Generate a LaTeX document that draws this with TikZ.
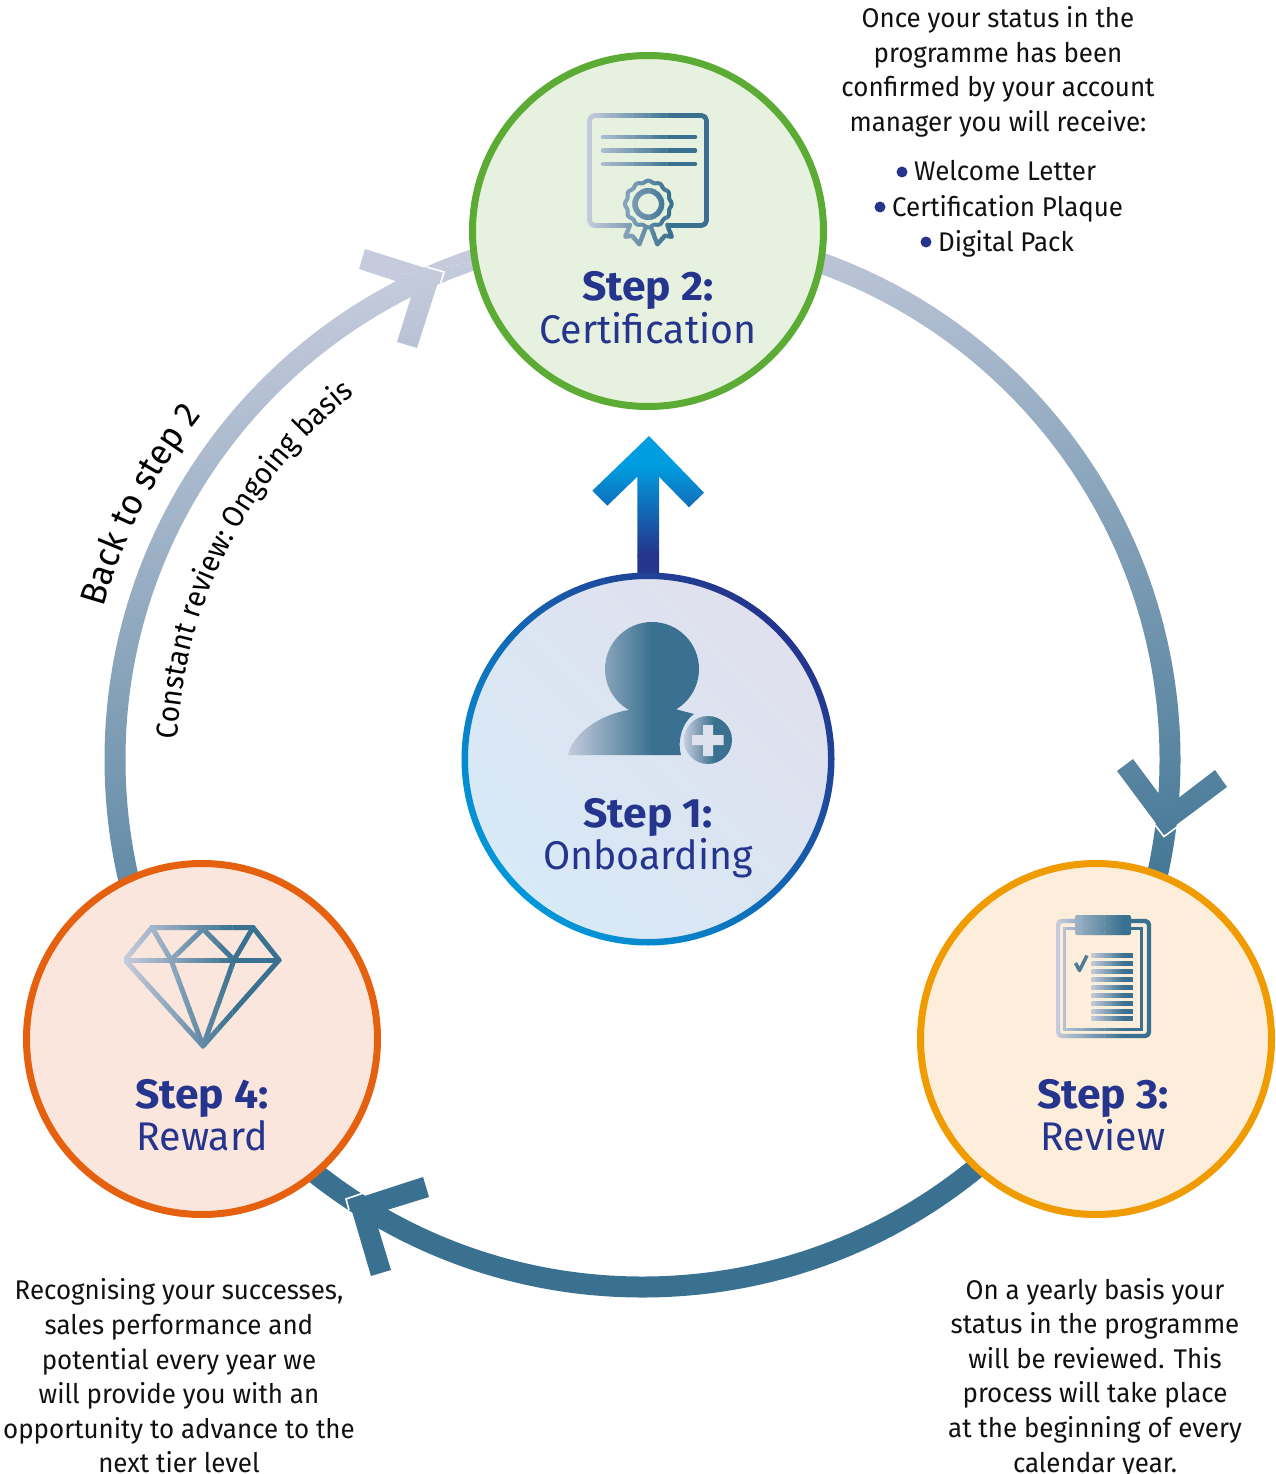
\documentclass[tikz,border=0pt]{standalone}
\usepackage{fontspec}
\setmainfont{Fira Sans}
\newfontfamily\bodyf[FakeStretch=0.96]{Fira Sans}
\newfontfamily\curvef[FakeStretch=0.93]{Fira Sans}
\newfontfamily\backf[FakeStretch=0.95]{Fira Sans}
\newfontfamily\namef[FakeStretch=0.983]{Fira Sans}
\newfontfamily\titlef[FakeStretch=1.04]{Fira Sans}
\usetikzlibrary{decorations.text}
\definecolor{iconlight}{HTML}{C5CBDC}
\definecolor{icondark}{HTML}{3A7190}
\definecolor{navy}{HTML}{25348C}
\definecolor{inktext}{HTML}{111111}
\newcommand\hstrips[6]{%
  \pgfmathsetmacro{\dx}{(#2-#1)/30}%
  \foreach \i in {0,...,29}{%
    \pgfmathsetmacro{\pct}{100*\i/29}%
    \colorlet{gc}{icondark!\pct!iconlight}%
    \pgfmathsetmacro{\xa}{#1+\i*\dx}%
    \pgfmathsetmacro{\xb}{#1+(\i+1)*\dx+0.4}%
    \begin{scope}\clip (\xa,#4) rectangle (\xb,#5); #6 \end{scope}%
  }%
  \colorlet{gc}{icondark}%
  \begin{scope}\clip (#2,#4) rectangle (#3,#5); #6 \end{scope}%
}
\newcommand\ringpaint{%
  \begin{scope}[transform canvas={rotate around={10:(642,759)}}]
  \fill[iconlight] (-1000,-1000) rectangle (2300,240);
  \shade[top color=iconlight,bottom color=icondark] (-1000,240) rectangle (2300,1023);
  \fill[icondark] (-1000,1023) rectangle (2300,2500);
  \end{scope}
}
\newcommand\bodyfs{\bodyf\fontsize{27}{34.6}\selectfont}
\newcommand\curvefs{\curvef\fontsize{30.3}{36}\selectfont}
\newcommand\backfs{\backf\fontsize{36}{40}\selectfont}
\tikzset{
  stepcircle/.style={circle,inner sep=0pt,minimum size=#1,line width=7pt},
  steptitle/.style={text=navy,font=\titlef\fontsize{41}{44}\selectfont\bfseries,anchor=base,inner sep=0pt},
  stepname/.style={text=navy,font=\namef\fontsize{40}{44}\selectfont,anchor=base,inner sep=0pt},
  para/.style={text=inktext,font=\bodyfs,align=center,inner sep=0pt},
  listitem/.style={text=inktext,font=\bodyfs,anchor=base west,inner sep=0pt},
  bulletdot/.style={circle,fill=navy,inner sep=0pt,minimum size=11pt},
  tipline/.style={white,line width=1.6pt,miter limit=10},
  iconstroke/.style={draw=gc,line width=#1,line join=round,line cap=round}
}
\begin{document}
\begin{tikzpicture}[x=1pt,y=-1pt]
\useasboundingbox (0,0) rectangle (1276,1474);
% big ring
\begin{scope}[even odd rule]
  \clip (642.5,759.5) circle [radius=538] (642.5,759.5) circle [radius=517];
  \ringpaint
\end{scope}
% arrow heads
\begin{scope}
  \clip (441,273) -- (365,249) -- (359,269) -- (414,287) -- (397,342) -- (417,348) -- cycle
        (1164,834) -- (1117,771) -- (1133,759) -- (1168,806) -- (1215,770) -- (1227,787) -- cycle
        (349,1201) -- (423,1177) -- (429,1197) -- (374,1214) -- (391,1270) -- (371,1276) -- cycle;
  \ringpaint
\end{scope}
\draw[tipline] (426.7,267) -- (444,272) -- (440.7,283);
\draw[tipline] (1155,825) -- (1164,836.5) -- (1177,827);
\draw[tipline] (362,1193.5) -- (346,1199) -- (349,1210);
% centre arrow
\begin{scope}
  \clip (649,436) -- (592.3,490.7) -- (607.3,505.7) -- (637.3,476.7) -- (637.3,585) -- (659,585) -- (659,476.7) -- (689,507.3) -- (704,492.7) -- cycle;
  \fill[fill={rgb,255:red,0;green,158;blue,224}] (580,430) rectangle (720,465);
  \shade[top color={rgb,255:red,0;green,158;blue,224},middle color={rgb,255:red,10;green,98;blue,172},bottom color=navy] (580,465) rectangle (720,555);
  \fill[navy] (580,555) rectangle (720,590);
\end{scope}
% circles
\node[stepcircle=351pt,draw={rgb,255:red,91;green,171;blue,53},fill={rgb,255:red,230;green,241;blue,223}] (s2) at (648,231) {};
\node[stepcircle=351pt,draw={rgb,255:red,240;green,155;blue,0},fill={rgb,255:red,253;green,238;blue,219}] (s3) at (1096,1039) {};
\node[stepcircle=351pt,draw={rgb,255:red,229;green,97;blue,15},fill={rgb,255:red,250;green,230;blue,220}] (s4) at (202,1039) {};
\node[stepcircle=370pt,line width=0pt,top color={rgb,255:red,224;green,224;blue,238},bottom color={rgb,255:red,215;green,234;blue,246},shading angle=-45] (s1) at (648,759) {};
\shade[even odd rule,top color=navy,middle color={rgb,255:red,10;green,84;blue,164},bottom color={rgb,255:red,0;green,152;blue,218},shading angle=-45]
  (648,759) circle [radius=186.5] (648,759) circle [radius=180];
% certificate icon
\hstrips{587}{672}{712}{108}{250}{%
  \draw[iconstroke=4.8pt,rounded corners=5pt] (628,225.5) -- (589.5,225.5) -- (589.5,115.5) -- (706.5,115.5) -- (706.5,225.5) -- (668,225.5);
  \draw[iconstroke=4.5pt] (603,137) -- (695,137) (603,150.5) -- (695,150.5) (603,164) -- (695,164);
  \draw[iconstroke=4pt] plot[domain=0:360,samples=121,smooth] ({648.3+(22.5+0.9*cos(12*\x))*cos(\x)},{204+(22.5+0.9*cos(12*\x))*sin(\x)}) -- cycle;
  \draw[draw=gc,line width=5.5pt] (648.3,204) circle [radius=13.3];
  \draw[iconstroke=4.4pt] (630,225) -- (625.3,236.7) -- (632,235.7) -- (639.3,244.3) -- (645,229.3);
  \draw[iconstroke=4.4pt] (651.7,229.3) -- (657.3,244.3) -- (665,235.7) -- (671.7,236.7) -- (667.3,225);
}
% person icon
\begin{scope}
  \clip (652,669) circle [radius=47]
        (568,755) .. controls (573,733) and (600,715) .. (628,710) -- (675,709) -- (694,714) .. controls (682,722) and (677,742) .. (681,755) -- cycle;
  \shade[left color=iconlight,right color=icondark] (568,610) rectangle (652,760);
  \fill[icondark] (652,610) rectangle (700,760);
\end{scope}
\begin{scope}
  \clip (708,740) circle [radius=24];
  \shade[left color=iconlight,right color=icondark] (684,715) rectangle (714,765);
  \fill[icondark] (714,715) rectangle (735,765);
\end{scope}
\fill[fill={rgb,255:red,221;green,225;blue,238}] (692,735) -- (703,735) -- (703,725) -- (713,725) -- (713,735) -- (723.5,735) -- (723.5,745) -- (713,745) -- (713,756) -- (703,756) -- (703,745) -- (692,745) -- cycle;
% clipboard icon
\hstrips{1056}{1125}{1153}{912}{1042}{%
  \draw[iconstroke=4.4pt,rounded corners=4pt] (1058,921) rectangle (1149,1036);
  \draw[draw=gc,line width=3.8pt,line join=miter] (1064.5,928.5) rectangle (1141.5,1029.5);
  \fill[gc,rounded corners=2pt] (1075,915) rectangle (1131,935);
}
\hstrips{1091}{1125}{1134}{950}{1024}{%
  \foreach \ya/\yb in {953/958,961/966,969/974,977/982,985/990,993/998,1001/1006,1009/1013.5,1016/1021}{\fill[gc] (1091,\ya) rectangle (1133,\yb);}
}
\draw[draw={rgb,255:red,76;green,124;blue,154},line width=3.5pt,line join=round] (1075.5,963) -- (1079.5,970.5) -- (1087,955.5);
% diamond icon
\hstrips{124}{236}{284}{922}{1052}{%
  \draw[iconstroke=5pt] (152,927.5) -- (253,927.5) -- (279,960) -- (203,1046) -- (125,960) -- cycle;
  \draw[iconstroke=5pt] (125,960) -- (279,960);
  \draw[iconstroke=5pt] (152,927.5) -- (171,960) -- (203,929) -- (234,960) -- (253,927.5);
  \draw[iconstroke=5pt] (171,960) -- (203,1046) -- (234,960);
}
% step labels
\node[steptitle] (t2) at (648,300) {Step 2:};
\node[stepname] (n2) at (648,343) {Certification};
\node[steptitle] (t1) at (648,827) {Step 1:};
\node[stepname] (n1) at (648,869) {Onboarding};
\node[steptitle] (t3) at (1103,1108) {Step 3:};
\node[stepname] (n3) at (1103,1150) {Review};
\node[steptitle] (t4) at (202,1108) {Step 4:};
\node[stepname] (n4) at (202,1150) {Reward};
% paragraphs
\node[para] (p2) at (998,72) {Once your status in the\\programme has been\\confirmed by your account\\manager you will receive:};
\node[para] (p4) at (179,1376) {Recognising your successes,\\sales performance and\\potential every year we\\will provide you with an\\opportunity to advance to the\\next tier level};
\node[para] (p3) at (1095,1378) {On a yearly basis your\\status in the programme\\will be reviewed. This\\process will take place\\at the beginning of every\\calendar year.};
% list
\node[bulletdot] (b1) at (902,172) {};
\node[bulletdot] (b2) at (880,207) {};
\node[bulletdot] (b3) at (926,242) {};
\node[listitem] (l1) at (914,181) {Welcome Letter};
\node[listitem] (l2) at (892,216) {Certification Plaque};
\node[listitem] (l3) at (938,251) {Digital Pack};
% curved labels
\path[decorate,decoration={text along path,text={|\backfs|Back to step 2}}]
  (642.5,759.5) ++(-164.2:560) arc [start angle=-164.2,end angle=-120,radius=560];
\path[decorate,decoration={text along path,text={|\curvefs|Constant review: Ongoing basis}}]
  (642.5,759.5) ++(-177.5:465) arc [start angle=-177.5,end angle=-100,radius=465];
\end{tikzpicture}
\end{document}
